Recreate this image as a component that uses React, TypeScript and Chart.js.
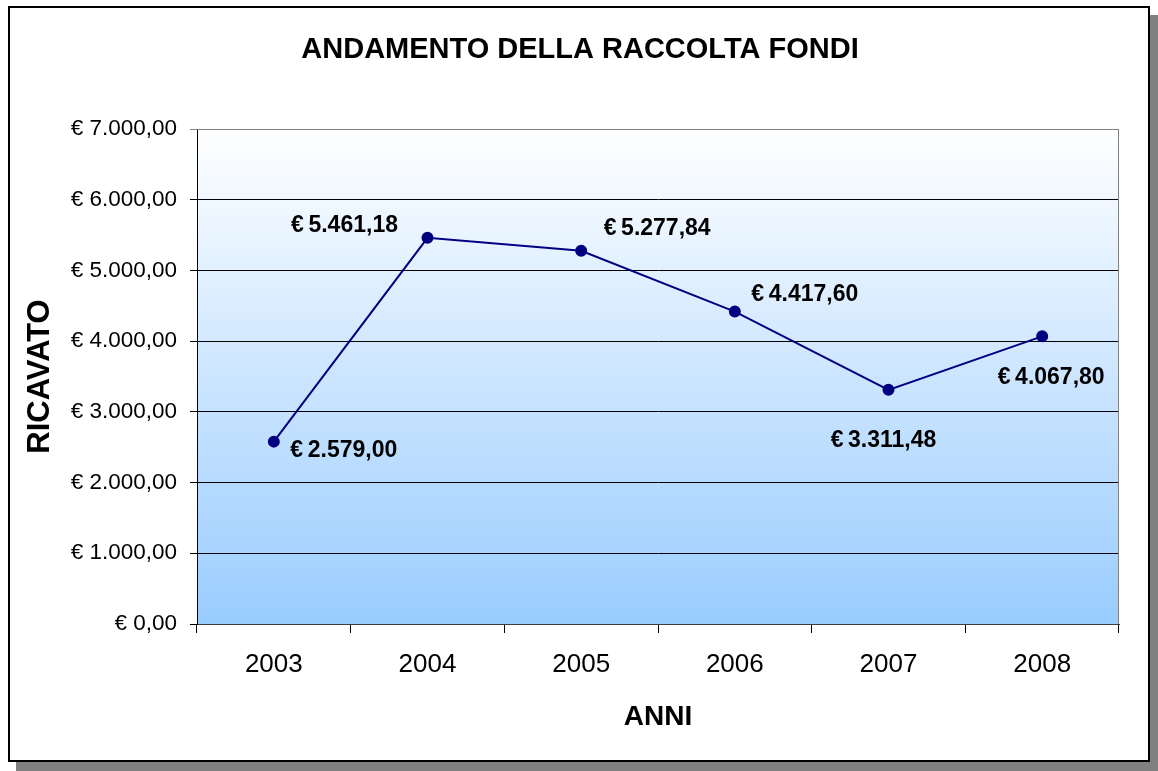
import React, { useEffect, useRef } from "react";
import { Chart, registerables } from "chart.js";

Chart.register(...registerables);

const chartTitle = "ANDAMENTO DELLA RACCOLTA FONDI";
const xAxisTitle = "ANNI";
const yAxisTitle = "RICAVATO";
const years = ["2003", "2004", "2005", "2006", "2007", "2008"];
const ricavato = [2579.0, 5461.18, 5277.84, 4417.6, 3311.48, 4067.8];
const yMin = 0;
const yMax = 7000;
const yStep = 1000;
// label placement (offset of label centre from its point, px)
const labelOffsets: [number, number][] = [
  [70, 9],
  [-83, -12],
  [76, -22],
  [70, -17],
  [-5, 51],
  [9, 41],
];

const FONT = "'Liberation Sans', Arial, sans-serif";

function euroNum(v: number): string {
  const [i, d] = Math.abs(v).toFixed(2).split(".");
  const withDots = i.replace(/\B(?=(\d{3})+(?!\d))/g, ".");
  return withDots + "," + d;
}
const tickLabel = (v: number) => "€ " + euroNum(v);
const dataLabel = (v: number) => "€\u2009" + euroNum(v);

const backgroundPlugin = {
  id: "plotBg",
  beforeDraw(chart: any) {
    const { ctx, chartArea: a } = chart;
    const g = ctx.createLinearGradient(0, a.top, 0, a.bottom);
    g.addColorStop(0, "#FFFFFF");
    g.addColorStop(1, "#99CCFF");
    ctx.save();
    ctx.fillStyle = g;
    ctx.fillRect(a.left, a.top, a.right - a.left, a.bottom - a.top);
    ctx.restore();
  },
};

const frameAndLabelsPlugin = {
  id: "frameLabels",
  beforeDatasetsDraw(chart: any) {
    const { ctx, chartArea: a } = chart;
    ctx.save();
    ctx.strokeStyle = "#808080";
    ctx.lineWidth = 1;
    ctx.beginPath();
    ctx.moveTo(a.left, a.top + 0.5);
    ctx.lineTo(a.right - 0.5, a.top + 0.5);
    ctx.lineTo(a.right - 0.5, a.bottom);
    ctx.stroke();
    ctx.restore();
  },
  afterDatasetsDraw(chart: any) {
    const { ctx } = chart;
    const meta = chart.getDatasetMeta(0);
    ctx.save();
    ctx.font = `bold 23px ${FONT}`;
    ctx.fillStyle = "#000000";
    ctx.textAlign = "center";
    ctx.textBaseline = "middle";
    meta.data.forEach((pt: any, i: number) => {
      const [dx, dy] = labelOffsets[i];
      ctx.fillText(dataLabel(ricavato[i]), pt.x + dx, pt.y + dy);
    });
    ctx.restore();
  },
  afterDraw(chart: any) {
    const { ctx } = chart;
    ctx.save();
    ctx.font = `bold 29px ${FONT}`;
    ctx.fillStyle = "#000000";
    ctx.textAlign = "center";
    ctx.textBaseline = "middle";
    ctx.fillText(chartTitle, 580, 50);
    ctx.restore();
  },
};

export default function App() {
  const ref = useRef<HTMLCanvasElement | null>(null);

  useEffect(() => {
    if (!ref.current) return;
    const chart = new Chart(ref.current, {
      type: "line",
      data: {
        labels: years,
        datasets: [
          {
            data: ricavato,
            borderColor: "#000080",
            borderWidth: 2,
            pointRadius: 5,
            pointBackgroundColor: "#000080",
            pointBorderColor: "#000080",
            tension: 0,
            fill: false,
          },
        ],
      },
      options: {
        animation: false,
        responsive: false,
        devicePixelRatio: 1,
        layout: { padding: { left: 22, right: 39, top: 129, bottom: 30 } },
        plugins: {
          legend: { display: false },
          tooltip: { enabled: false },
          title: { display: false },
        },
        scales: {
          x: {
            type: "category",
            offset: true,
            grid: {
              offset: true,
              drawOnChartArea: false,
              drawTicks: true,
              tickLength: 9,
              color: "#000000",
            },
            border: { color: "#404040", width: 1 },
            ticks: {
              font: { family: FONT, size: 26 },
              color: "#000000",
              padding: 16,
              maxRotation: 0,
            },
            title: {
              display: true,
              text: xAxisTitle,
              font: { family: FONT, size: 28, weight: "bold" },
              color: "#000000",
              padding: { top: 0, bottom: 7 },
            },
            afterFit(s: any) {
              s.height = 117;
            },
          },
          y: {
            min: yMin,
            max: yMax,
            ticks: {
              stepSize: yStep,
              callback: (v: any) => tickLabel(Number(v)),
              font: { family: FONT, size: 22.5 },
              color: "#000000",
              padding: 13,
            },
            grid: {
              color: (c: any) =>
                c.tick && c.tick.value === yMax ? "#808080" : "#000000",
              lineWidth: 1,
              tickLength: 7,
              drawTicks: true,
            },
            border: { color: "#000000", width: 1 },
            title: {
              display: true,
              text: yAxisTitle,
              font: { family: FONT, size: 31, weight: "bold" },
              color: "#000000",
              padding: 0,
            },
            afterFit(s: any) {
              s.width = 175;
            },
          },
        },
      },
      plugins: [backgroundPlugin, frameAndLabelsPlugin],
    });
    return () => chart.destroy();
  }, []);

  return (
    <div style={{ position: "absolute", left: 0, top: 0, width: 1158, height: 771, background: "#fff" }}>
      <div
        style={{
          position: "absolute",
          left: 8,
          top: 6,
          width: 1142,
          height: 756,
          boxSizing: "border-box",
          border: "2px solid #000",
          boxShadow: "8px 9px 0 #808080",
          background: "#fff",
        }}
      />
      <canvas
        ref={ref}
        width={1158}
        height={771}
        style={{ position: "absolute", left: 0, top: 0, width: 1158, height: 771 }}
      />
    </div>
  );
}
